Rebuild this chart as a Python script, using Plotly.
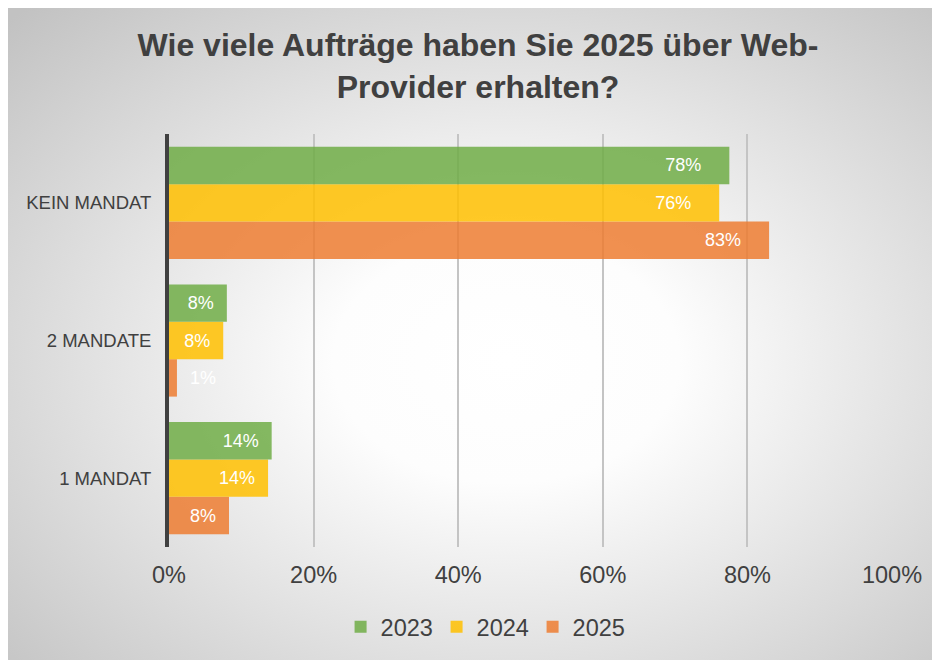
import base64
import plotly.graph_objects as go

# ---- data ----
categories = ["1 MANDAT", "2 MANDATE", "KEIN MANDAT"]   # bottom -> top
years = ["2023", "2024", "2025"]
values_2023 = [0.142, 0.080, 0.775]
values_2024 = [0.137, 0.075, 0.761]
values_2025 = [0.083, 0.011, 0.830]
x_ticks = [0, 0.2, 0.4, 0.6, 0.8, 1.0]
title_text = "Wie viele Aufträge haben Sie 2025 über Web-<br>Provider erhalten?"

series = {"2023": values_2023, "2024": values_2024, "2025": values_2025}
colors = {"2023": "rgba(112,173,71,0.85)",
          "2024": "rgba(255,192,0,0.85)",
          "2025": "rgba(237,125,49,0.85)"}

FONT = "Liberation Sans, Arial, sans-serif"
NB = "\u00a0"


def label(v):
    t = f"{round(v * 100):.0f}%"
    if v < 0.03:
        return NB * 2 + t
    return t + NB * (5 if v >= 0.5 else 2)


fig = go.Figure()
# add in reverse so 2023 sits on top of each group
for rank, yr in reversed(list(enumerate(years))):
    vals = series[yr]
    fig.add_trace(go.Bar(
        y=categories, x=vals, name=yr, orientation="h",
        marker=dict(color=colors[yr], line=dict(width=0)),
        text=[label(v) for v in vals],
        textposition="auto",
        insidetextanchor="end",
        textfont=dict(family=FONT, size=18, color="white"),
        outsidetextfont=dict(family=FONT, size=18, color="white"),
        insidetextfont=dict(family=FONT, size=18, color="white"),
        legendrank=rank,
        cliponaxis=False,
        hoverinfo="skip",
    ))

# radial gradient background
W, H = 960, 680
svg = f"""<svg xmlns='http://www.w3.org/2000/svg' width='{W}' height='{H}' viewBox='0 0 {W} {H}' preserveAspectRatio='none'>
<defs><radialGradient id='g' cx='0.52' cy='0.52' r='0.72'>
<stop offset='0' stop-color='#ffffff'/>
<stop offset='0.25' stop-color='#fdfdfd'/>
<stop offset='1' stop-color='#c2c2c2'/>
</radialGradient></defs>
<rect x='0' y='0' width='{W}' height='{H}' fill='url(#g)'/>
<rect x='0.5' y='0.5' width='{W + 10}' height='{H + 10}' fill='none' stroke='#c8c8c8' stroke-width='1'/>
</svg>"""
src = "data:image/svg+xml;base64," + base64.b64encode(svg.encode()).decode()

L, R, T, B = 161, 56, 126, 121
pw, ph = 940 - L - R, 660 - T - B
x0c, y0c = -1, -1
fig.add_layout_image(dict(
    source=src, xref="paper", yref="paper",
    x=(x0c - L) / pw, y=(660 - B - y0c) / ph,
    sizex=W / pw, sizey=H / ph,
    xanchor="left", yanchor="top", sizing="stretch", layer="below",
))

fig.update_layout(
    width=940, height=660,
    margin=dict(l=L, r=R, t=T, b=B),
    paper_bgcolor="white",
    plot_bgcolor="rgba(0,0,0,0)",
    barmode="group",
    bargap=0.185,
    bargroupgap=0,
    font=dict(family=FONT, color="#404040"),
    title=dict(
        text=title_text,
        font=dict(family=FONT, size=32, color="#404040", weight=700),
        x=0.5, xanchor="center", xref="container",
        y=1 - 48 / 660, yanchor="middle", yref="container",
    ),
    xaxis=dict(
        range=[0, 1], tickvals=x_ticks, tickformat=".0%",
        showgrid=True, gridcolor="#c4c4c4", gridwidth=1.5,
        zeroline=False, showline=False, ticks="",
        tickfont=dict(family=FONT, size=23.5, color="#404040"),
        ticklabelstandoff=11, fixedrange=True,
    ),
    yaxis=dict(
        categoryorder="array", categoryarray=categories,
        showgrid=False, zeroline=False,
        showline=True, linecolor="#404040", linewidth=4,
        ticks="", tickfont=dict(family=FONT, size=18.5, color="#404040"),
        ticklabelstandoff=10, fixedrange=True,
    ),
    legend=dict(
        orientation="h", xref="container", yref="container",
        x=0.507, xanchor="center", y=1 - 619 / 660, yanchor="middle",
        font=dict(family=FONT, size=23.5, color="#404040"),
        bgcolor="rgba(0,0,0,0)", itemwidth=30,
        entrywidth=51, entrywidthmode="pixels",
    ),
    uniformtext=dict(mode=False),
)

fig.write_html("out.html")
